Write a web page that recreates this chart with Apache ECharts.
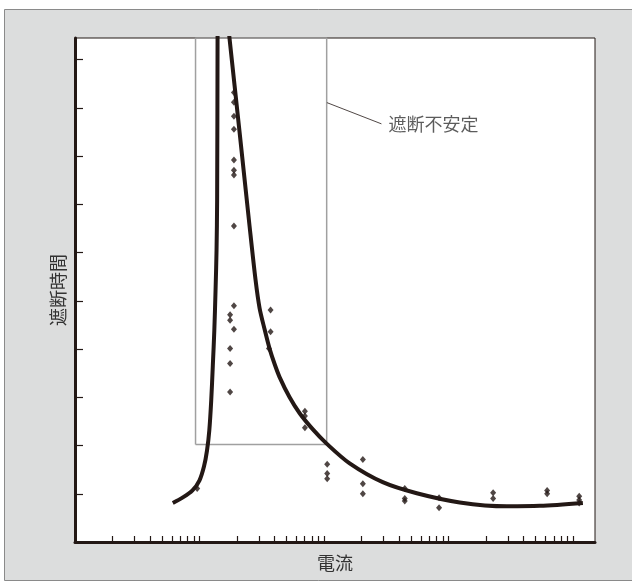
<!DOCTYPE html>
<html>
<head>
<meta charset="utf-8">
<script src="https://cdn.jsdelivr.net/npm/echarts@6/dist/echarts.min.js"></script>
<style>html,body{margin:0;padding:0;background:#fff}#c{width:632px;height:588px}</style>
</head>
<body>
<div id="c"></div>
<script>
// ---- data ----
var xTitle = '電流';
var yTitle = '遮断時間';
var annotationText = '遮断不安定';
var xTickValues = [2,3,4,5,6,7,8,9,10,20,30,40,50,60,70,80,90,100,200,300,400,500,600,700,800,900,1000,2000,3000,4000,5000,6000,7000,8000,9000,10000];
var yTickValues = [1,2,3,4,5,6,7,8,9,10];
var curveLeft = [[6.1,0.81],[7.3,0.92],[8.78,1.07],[10.0,1.28],[10.87,1.57],[11.49,1.9],[11.99,2.32],[12.42,2.94],[12.79,3.66],[13.15,4.39],[13.45,5.22],[13.7,6.05],[13.85,7.09],[13.96,10.45],[13.97,11.2]];
var curveRight = [[16.24,11.2],[17.42,10.44],[20.97,8.5],[25.23,6.55],[28.19,5.43],[30.36,4.85],[33.31,4.41],[36.52,4.01],[40.08,3.69],[43.95,3.42],[52.9,3.0],[63.7,2.67],[81,2.34],[104.9,2.04],[160.6,1.63],[296,1.24],[555,1.01],[1230,0.82],[2937,0.74],[5410,0.75],[11990,0.81]];
var measured = [
  [18.9,9.32],[18.9,9.12],[18.9,8.83],[18.9,8.56],[18.9,7.92],[18.9,7.71],[18.9,7.61],[18.9,6.55],[18.9,4.9],[18.9,4.41],
  [17.6,4.71],[17.6,4.6],[17.6,4.01],[17.6,3.7],[17.6,3.11],
  [37.2,4.81],[37.2,4.36],[36.1,4.01],
  [70.2,2.71],[70.2,2.61],[70.2,2.37],
  [9.58,1.11],
  [106,1.61],[106,1.42],[106,1.31],
  [205,1.71],[205,1.21],[205,1.0],
  [445,1.11],[445,0.9],[445,0.85],
  [839,0.92],[839,0.71],
  [2280,1.02],[2280,0.9],
  [6190,1.07],[6190,1.0],
  [11200,0.95],[11200,0.87],[11200,0.81]
];
var unstableBox = [[9.29,2.02],[9.29,10.45],[105,10.45],[105,2.02],[9.29,2.02]];
var leaderLine = [[105.5,9.11],[289,8.67]];
var labelAnchor = [[289,8.67]];
var xRange = [1, 15000];
var yRange = [0, 10.45];

var ink = '#231815';
var font = '"Noto Sans CJK JP", "Noto Sans", sans-serif';

var chart = echarts.init(document.getElementById('c'), null, {renderer:'canvas'});
chart.setOption({
  backgroundColor: '#ffffff',
  animation: false,
  graphic: [{
    type: 'rect', z: -100, silent: true,
    shape: {x: 4.5, y: 9.5, width: 700, height: 571},
    style: {fill: '#dcdddd', stroke: '#8a8a8a', lineWidth: 1}
  }],
  grid: {left: 75, right: 37, top: 38, bottom: 46, show: true, backgroundColor: '#ffffff', borderColor: ink, borderWidth: 1, containLabel: false},
  xAxis: {
    type: 'log', logBase: 10, min: xRange[0], max: xRange[1],
    name: xTitle, nameLocation: 'middle', nameGap: 12,
    nameTextStyle: {fontFamily: font, fontSize: 18, color: '#333', verticalAlign: 'top'},
    axisLine: {show: true, lineStyle: {color: ink, width: 3}},
    axisTick: {show: true, inside: true, length: 6, customValues: xTickValues, lineStyle: {color: ink, width: 1.2}},
    axisLabel: {show: false},
    minorTick: {show: false},
    splitLine: {show: false}
  },
  yAxis: {
    type: 'value', min: yRange[0], max: yRange[1],
    name: yTitle, nameLocation: 'middle', nameGap: 8, nameRotate: 90,
    nameTextStyle: {fontFamily: font, fontSize: 18, color: '#333'},
    axisLine: {show: true, lineStyle: {color: ink, width: 3}},
    axisTick: {show: true, inside: true, length: 8, customValues: yTickValues, lineStyle: {color: ink, width: 1.2}},
    axisLabel: {show: false},
    splitLine: {show: false}
  },
  series: [
    {type: 'line', data: unstableBox, symbol: 'none', silent: true, z: 1,
     lineStyle: {color: '#a0a0a0', width: 1.5}},
    {type: 'line', data: leaderLine, symbol: 'none', silent: true, z: 1,
     lineStyle: {color: ink, width: 0.8}},
    {type: 'scatter', data: labelAnchor, symbolSize: 0, silent: true, z: 1,
     label: {show: true, position: 'right', distance: 7, formatter: annotationText,
             fontFamily: font, fontSize: 18, color: '#333'}},
    {type: 'line', data: curveLeft, symbol: 'none', smooth: 0.3, z: 2,
     lineStyle: {color: ink, width: 4}},
    {type: 'line', data: curveRight, symbol: 'none', smooth: 0.3, z: 2,
     lineStyle: {color: ink, width: 4}},
    {type: 'scatter', data: measured, symbol: 'diamond', symbolSize: [6,7], z: 3,
     itemStyle: {color: ink}}
  ]
});
</script>
</body>
</html>
